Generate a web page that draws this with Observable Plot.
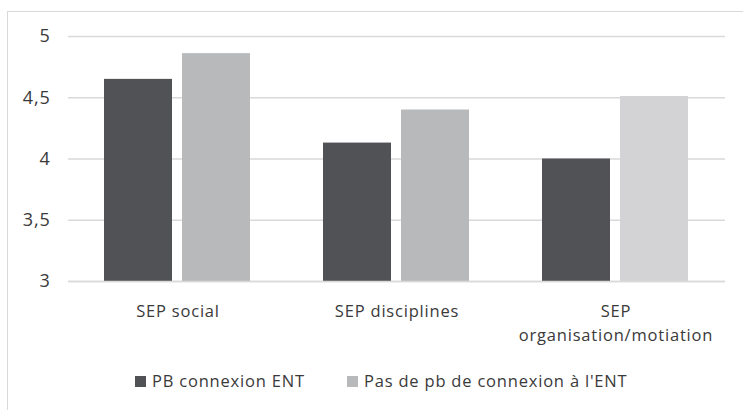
<!DOCTYPE html>
<html>
<head>
<meta charset="utf-8">
<script src="https://cdn.jsdelivr.net/npm/d3@7"></script>
<script src="https://cdn.jsdelivr.net/npm/@observablehq/plot@0.6"></script>
<style>
  html, body { margin: 0; padding: 0; background: #fff; overflow: hidden; width: 743px; height: 410px; }
  body { position: relative; font-family: "Open Sans", sans-serif; }
  .frame { position: absolute; left: 7px; top: 11px; width: 800px; height: 500px; border: 1px solid #d9d9d9; pointer-events: none; }
  #chart svg { display: block; }
  #chart svg text { letter-spacing: 0.8px; }
  .legend { position: relative; height: 55px; font-size: 16.5px; letter-spacing: 0.8px; color: #3a3a3a; }
  .legend .item { position: absolute; top: 15px; display: flex; align-items: center; white-space: nowrap; line-height: 22px; }
  .legend .sw { width: 11px; height: 11px; margin-right: 6px; display: inline-block; }
</style>
</head>
<body>
<div class="frame"></div>
<div id="chart"></div>
<div class="legend" id="legend"></div>
<script>
const categories = ["SEP social", "SEP disciplines", "SEP organisation/motiation"];
const categoryLabels = ["SEP social", "SEP disciplines", "SEP\norganisation/motiation"];
const series = ["PB connexion ENT", "Pas de pb de connexion à l'ENT"];
const pbConnexion = [4.65, 4.13, 4.00];
const pasDePb = [4.86, 4.40, 4.51];
const yTicks = [3, 3.5, 4, 4.5, 5];

const data = [];
categories.forEach((c, i) => {
  data.push({category: c, serie: series[0], value: pbConnexion[i]});
  data.push({category: c, serie: series[1], value: pasDePb[i]});
});

const fillFor = d => d.serie === series[0] ? "#515256"
  : (d.category === categories[2] ? "#d3d3d5" : "#b8b9bb");

const chart = Plot.plot({
  width: 743,
  height: 355,
  marginTop: 36,
  marginBottom: 74,
  marginLeft: 68,
  marginRight: 18,
  style: {fontFamily: "'Open Sans', sans-serif", color: "#3a3a3a", background: "transparent"},
  fx: {domain: categories, padding: 0},
  x: {domain: series, paddingInner: 0.127, paddingOuter: 0.45, axis: null},
  y: {domain: [3, 5], ticks: yTicks},
  marks: [
    Plot.gridY(yTicks, {stroke: "#d9d9d9", strokeOpacity: 1, strokeWidth: 1.3}),
    Plot.barY(data, {fx: "category", x: "serie", y1: 3, y2: "value", fill: fillFor}),
    Plot.ruleY([3], {stroke: "#d9d9d9", strokeWidth: 1.3}),
    Plot.axisY(yTicks, {tickSize: 0, tickPadding: 18, fontSize: 18, fill: "#3a3a3a",
      tickFormat: d => String(d).replace(".", ","), label: null}),
    Plot.axisFx({anchor: "bottom", tickSize: 0, tickPadding: 19, fontSize: 16.5, fill: "#3a3a3a",
      lineHeight: 1.42, label: null,
      tickFormat: d => categoryLabels[categories.indexOf(d)]})
  ]
});
document.getElementById("chart").appendChild(chart);

const legend = document.getElementById("legend");
const colors = ["#515256", "#b8b9bb"];
const lefts = [135, 347];
series.forEach((s, i) => {
  const item = document.createElement("div");
  item.className = "item";
  item.style.left = lefts[i] + "px";
  const sw = document.createElement("span");
  sw.className = "sw";
  sw.style.background = colors[i];
  const t = document.createElement("span");
  t.textContent = s;
  item.appendChild(sw);
  item.appendChild(t);
  legend.appendChild(item);
});
</script>
</body>
</html>
